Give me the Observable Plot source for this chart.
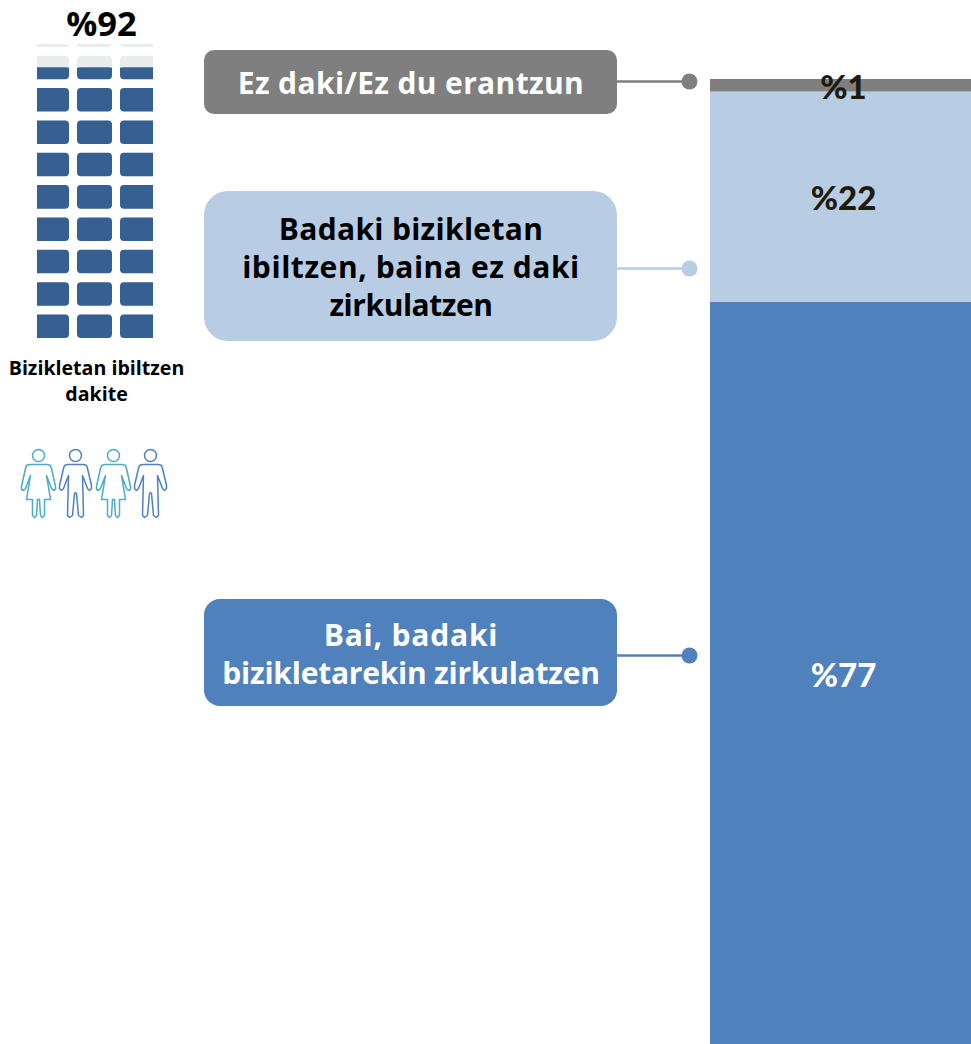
<!DOCTYPE html>
<html><head><meta charset="utf-8">
<script src="https://cdn.jsdelivr.net/npm/d3@7"></script>
<script src="https://cdn.jsdelivr.net/npm/@observablehq/plot@0.6"></script>
<style>
html,body{margin:0;padding:0;background:#fff;overflow:hidden}
#page{position:relative;width:971px;height:1044px;overflow:hidden}
#page svg{position:absolute;background:transparent;display:block}
</style></head><body><div id="page"></div>
<script>
const categories = ["Bai, badaki bizikletarekin zirkulatzen", "Badaki bizikletan ibiltzen, baina ez daki zirkulatzen", "Ez daki/Ez du erantzun"];
const shares = [76.9, 21.8, 1.3];
const shareLabels = ["%77", "%22", "%1"];
const colors = ["#4f81bd", "#b8cce4", "#7f7f7f"];
const labelColors = ["#ffffff", "#1d1b10", "#1d1b10"];
const calloutLines = [
  ["Bai, badaki", "bizikletarekin zirkulatzen"],
  ["Badaki bizikletan", "ibiltzen, baina ez daki", "zirkulatzen"],
  ["Ez daki/Ez du erantzun"]
];
const calloutTextColors = ["#ffffff", "#000000", "#ffffff"];
const knowPct = 92;
const knowLabel = "%92";
const knowCaption = ["Bizikletan ibiltzen", "dakite"];

const FONT = "'Open Sans', sans-serif";
const PCT = "Lato, sans-serif";
const Y = px => (1044 - px) / 9.65;

const rows = categories.map((c, i) => ({c, value: shares[i], label: shareLabels[i], color: colors[i], tc: labelColors[i]}));
const boxes = [
  {i: 0, top: 599, bottom: 706, r: 16, lineY: 655, firstLine: 636},
  {i: 1, top: 191, bottom: 341, r: 24, lineY: 268, firstLine: 229.5},
  {i: 2, top: 50, bottom: 114, r: 10, lineY: 81, firstLine: 83.5}
];
const boxLines = boxes.flatMap(b => calloutLines[b.i].map((t, k) => ({t, y: b.firstLine + k * 38, c: calloutTextColors[b.i]})));

const woman = [[-9,9],[-12,10],[-13,13],[-17,31],[-17,34],[-15,35],[-13,33],[-8,20],[-12,44],[-6,44],[-6,60],[-4,62],[-2,60],[-1,44],[1,44],[2,60],[4,62],[6,60],[6,44],[12,44],[8,20],[13,33],[15,35],[17,34],[17,31],[13,13],[12,10],[9,9],[-9,9]];
const man = [[-8,9],[-11,10],[-12,13],[-16,30],[-16,33],[-14,35],[-12,33],[-7,20],[-8,60],[-6,62],[-3,60],[-1,38],[0,37],[1,38],[3,60],[6,62],[8,60],[7,20],[12,33],[14,35],[16,33],[16,30],[12,13],[11,10],[8,9],[-8,9]];
const people = [{x: 38, s: woman, c: "#4bacc6"}, {x: 75, s: man, c: "#4f81bd"}, {x: 113, s: woman, c: "#4bacc6"}, {x: 150, s: man, c: "#4f81bd"}];
const peoplePts = people.flatMap((p, k) => p.s.map(([dx, dy]) => ({k, c: p.c, x: p.x + dx, y: Y(455 + dy)})));

const main = Plot.plot({
  width: 971, height: 1044, margin: 0,
  x: {domain: [0, 971], range: [0, 971], axis: null},
  y: {domain: [0, 100], range: [1044, 79], axis: null},
  marks: [
    Plot.rectY(rows, Plot.stackY({order: null}, {x1: () => 710, x2: () => 971, y: "value", fill: "color"})),
    Plot.text(rows, Plot.stackY({order: null}, {x: () => 843, y: "value", text: "label", fill: "tc", fontFamily: PCT, fontWeight: 900, fontSize: 33, dy: 2.5})),
    Plot.ruleY(boxes, {x1: () => 617, x2: () => 689, y: b => Y(b.lineY), stroke: b => colors[b.i], strokeWidth: 2.5}),
    Plot.dot(boxes, {x: () => 689, y: b => Y(b.lineY), r: 8, fill: b => colors[b.i]}),
    ...boxes.map(b => Plot.rect([b], {x1: () => 204, x2: () => 617, y1: d => Y(d.bottom), y2: d => Y(d.top), fill: colors[b.i], rx: b.r})),
    Plot.text(boxLines, {x: () => 410.5, y: d => Y(d.y), text: "t", fill: "c", fontFamily: FONT, fontWeight: 700, fontSize: 30}),
    Plot.text([knowLabel], {x: () => 101, y: () => Y(24), text: d => d, fill: "#000", fontFamily: FONT, fontWeight: 700, fontSize: 34.5}),
    Plot.text(knowCaption, {x: () => 96, y: (d, i) => Y(368 + i * 26), text: d => d, fill: "#000", fontFamily: FONT, fontWeight: 700, fontSize: 19.6}),
    Plot.line(peoplePts, {x: "x", y: "y", z: "k", stroke: "c", strokeWidth: 1.5, curve: "linear", strokeLinejoin: "round"}),
    Plot.dot(people, {x: "x", y: () => Y(455), r: 6, stroke: "c", strokeWidth: 1.5, fill: "none"})
  ]
});
main.style.left = "0"; main.style.top = "0";
// Per-line tracking so each callout line spans the same width as in the reference
const tracking = {"Bai, badaki": 0.8, "bizikletarekin zirkulatzen": -0.23, "Badaki bizikletan": 0.3, "ibiltzen, baina ez daki": 0.56, "zirkulatzen": -0.45, "Ez daki/Ez du erantzun": 0.36};
main.querySelectorAll("text").forEach(n => { const s = tracking[n.textContent]; if (s !== undefined) n.style.letterSpacing = s + "px"; });

// Pictogram: 100% spans the whole column of cells, filled up to knowPct
const cellCols = [[-4, 32], [40, 75], [83, 120]];
const cells = d3.range(10).flatMap(r => cellCols.map(([x1, x2]) => ({x1, x2, b: r * 11, t: r * 11 + 8})));
const filled = cells.filter(d => d.b < knowPct).map(d => ({...d, t: Math.min(d.t, knowPct)}));
const partial = cells.filter(d => d.b < knowPct && d.t > knowPct).map(d => ({...d, b: knowPct - 2, t: knowPct}));
const picto = Plot.plot({
  width: 116, height: 294, margin: 0,
  x: {domain: [0, 116], range: [0, 116], axis: null},
  y: {domain: [0, 100], range: [294, 0], axis: null},
  marks: [
    Plot.rect(cells, {x1: "x1", x2: "x2", y1: "b", y2: "t", fill: "#e9edee", rx: 4, clip: true}),
    Plot.rect(filled, {x1: "x1", x2: "x2", y1: "b", y2: "t", fill: "#376092", rx: 4, clip: true}),
    Plot.rect(partial, {x1: "x1", x2: "x2", y1: "b", y2: "t", fill: "#376092", clip: true})
  ]
});
picto.style.left = "37px"; picto.style.top = "44px";
document.getElementById("page").append(main, picto);
</script></body></html>
